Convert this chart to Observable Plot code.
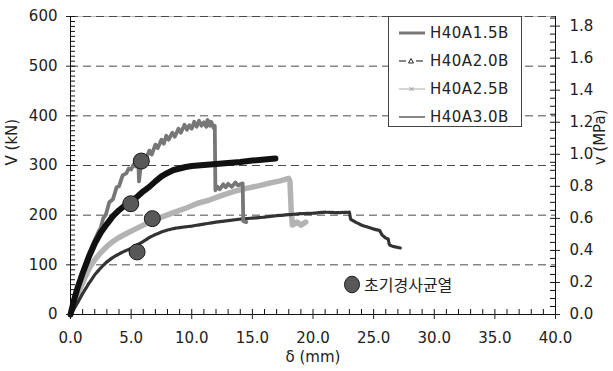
<!DOCTYPE html>
<html>
<head>
<meta charset="utf-8">
<script src="https://cdn.jsdelivr.net/npm/d3@7"></script>
<script src="https://cdn.jsdelivr.net/npm/@observablehq/plot@0.6"></script>
<style>
  html, body { margin: 0; padding: 0; background: #fff; }
  #chart { position: relative; width: 613px; height: 371px; font-family: "DejaVu Sans", "Noto Sans CJK KR", sans-serif; color: #222; }
  #chart svg { display: block; }
  .legend { position: absolute; left: 388px; top: 16px; width: 134px; height: 111px; box-sizing: border-box;
            border: 1px solid #444; background: #fff; padding-top: 2px; }
  .legend .row { display: flex; align-items: center; height: 28px; }
  .legend svg { margin-left: 10px; margin-right: 5px; }
  .legend span { font-size: 15px; letter-spacing: 0.5px; color: #222; }
  .crack { position: absolute; left: 343px; top: 272px; display: flex; align-items: center; }
  .crack span { font-family: "Noto Sans CJK KR", sans-serif; font-size: 16px; color: #222; margin-left: 3px; }
</style>
</head>
<body>
<div id="chart"></div>
<script>
// Load-displacement curves of four wall specimens: δ (mm), V (kN)
const seriesNames = ["H40A1.5B", "H40A2.0B", "H40A2.5B", "H40A3.0B"];

const h40a15 = [
  [0, 0], [0.5, 45], [1.0, 88], [1.5, 122], [2.0, 150], [2.3, 166], [2.5, 175], [2.7, 194],
  [2.9, 200], [3.2, 226], [3.5, 232], [3.8, 256], [4.0, 258], [4.3, 280], [4.6, 284],
  [4.8, 294], [5.0, 292], [5.2, 302], [5.4, 298], [5.6, 306], [5.65, 268], [5.75, 290],
  [6.0, 316], [6.2, 312], [6.5, 330], [6.7, 322], [7.0, 342], [7.2, 335], [7.5, 352],
  [7.7, 344], [7.9, 360], [8.1, 352], [8.4, 366], [8.6, 358], [8.9, 374], [9.1, 366],
  [9.4, 382], [9.6, 372], [9.8, 381], [10.0, 374], [10.2, 388], [10.4, 378], [10.6, 390],
  [10.8, 380], [11.0, 387], [11.2, 378], [11.3, 392], [11.5, 380], [11.6, 388], [11.8, 376],
  [11.9, 380], [11.95, 250], [12.1, 258], [12.3, 252], [12.6, 262], [12.8, 256], [13.0, 263],
  [13.3, 257], [13.6, 266], [13.8, 260], [14.2, 264], [14.25, 188], [14.5, 186]
];

const h40a20 = [
  [0, 0], [0.5, 20], [1.0, 42], [1.5, 62], [2.0, 80], [2.5, 94], [3.0, 106], [3.5, 115],
  [4.0, 122], [4.5, 128], [5.0, 133], [5.5, 140], [6.0, 147], [6.5, 155], [7.0, 161],
  [7.5, 166], [8.0, 170], [8.5, 173], [9.0, 175], [10.0, 178], [11.0, 182], [12.0, 186],
  [13.0, 189], [14.0, 192], [15.0, 194], [16.0, 196], [17.0, 199], [18.0, 201], [19.0, 203],
  [20.0, 204], [21.0, 206], [22.0, 205], [23.0, 206], [23.1, 192], [23.5, 186], [24.0, 180],
  [24.5, 176], [25.0, 172], [25.5, 169], [25.7, 160], [26.0, 154], [26.2, 152], [26.3, 140],
  [26.6, 137], [27.2, 134]
];

const h40a25 = [
  [0, 0], [0.4, 25], [0.8, 52], [1.2, 75], [1.6, 95], [2.0, 110], [2.5, 125], [3.0, 137],
  [3.5, 147], [4.0, 155], [4.7, 164], [5.5, 174], [6.5, 186], [7.5, 196], [8.5, 205],
  [9.5, 214], [10.5, 224], [11.5, 231], [12.5, 240], [13.5, 248], [14.5, 254], [15.5, 259],
  [16.5, 265], [17.3, 269], [18.0, 274], [18.1, 268], [18.2, 210], [18.3, 180], [18.7, 186],
  [19.0, 180], [19.4, 186]
];

const h40a30 = [
  [0, 0], [0.3, 30], [0.6, 55], [1.0, 83], [1.5, 115], [2.0, 143], [2.5, 165], [3.0, 182],
  [3.5, 198], [4.0, 210], [4.5, 220], [5.0, 228], [5.5, 237], [6.0, 248], [6.5, 257],
  [7.0, 268], [7.5, 278], [8.0, 285], [8.5, 291], [9.0, 294], [9.5, 297], [10.0, 299],
  [11.0, 301], [12.0, 303], [13.0, 305], [14.0, 307], [15.0, 310], [16.0, 312], [16.9, 314]
];

// Initial diagonal cracking points (초기경사균열)
const crackDelta = [5.84, 4.97, 6.75, 5.49];
const crackV = [309, 223, 193, 126];

// Axis ticks
const xTicks = [0, 5, 10, 15, 20, 25, 30, 35, 40];
const yTicks = [0, 100, 200, 300, 400, 500, 600];
const gridV = [100, 200, 300, 400, 500, 600];
const mpaTicks = [0, 0.2, 0.4, 0.6, 0.8, 1.0, 1.2, 1.4, 1.6, 1.8];
const mpaPerKN = 0.0031; // shear stress per unit of shear force

const styles = {
  "H40A1.5B": {stroke: "#777", strokeWidth: 3.8},
  "H40A2.0B": {stroke: "#333", strokeWidth: 3.2, strokeDasharray: "3,1.2"},
  "H40A2.5B": {stroke: "#b3b3b3", strokeWidth: 5.5},
  "H40A3.0B": {stroke: "#111", strokeWidth: 6}
};

const curve = (pts, name) => Plot.line(pts, {
  x: d => d[0], y: d => d[1], strokeLinejoin: "round", ...styles[name]
});

const W = 613, H = 371, ML = 70, MR = 58, MT = 16, MB = 57;
const frameW = W - ML - MR, frameH = H - MT - MB;
const tickLen = 5;

const minorX = d3.range(0, 41, 1);
const minorY = d3.range(0, 601, 10);
const minorMpa = d3.range(0, 38).map(i => i * 0.05 / mpaPerKN).filter(v => v <= 600);

const chart = Plot.plot({
  width: W,
  height: H,
  marginLeft: ML,
  marginRight: MR,
  marginTop: MT,
  marginBottom: MB,
  style: {fontFamily: "DejaVu Sans, sans-serif", fontSize: "15px", color: "#222", background: "transparent", overflow: "visible"},
  x: {domain: [0, 40]},
  y: {domain: [0, 600]},
  marks: [
    Plot.ruleY([600], {stroke: "#bbb"}),
    Plot.ruleY(gridV, {stroke: "#4a4a4a", strokeDasharray: "8,5"}),
    curve(h40a25, "H40A2.5B"),
    curve(h40a20, "H40A2.0B"),
    curve(h40a15, "H40A1.5B"),
    curve(h40a30, "H40A3.0B"),
    Plot.dot(crackDelta.map((d, i) => i), {
      x: i => crackDelta[i], y: i => crackV[i], r: 8, fill: "#585858", stroke: "#1a1a1a", strokeWidth: 1
    }),
    Plot.ruleX([0], {stroke: "#111"}),
    Plot.ruleX([40], {stroke: "#111"}),
    Plot.ruleY([0], {stroke: "#111"}),
    // inner minor ticks
    Plot.tickY(minorY, {y: d => d, insetRight: frameW - tickLen, stroke: "#111"}),
    Plot.tickY(minorMpa, {y: d => d, insetLeft: frameW - tickLen, stroke: "#111"}),
    Plot.tickX(minorX, {x: d => d, insetTop: frameH - tickLen, stroke: "#111"}),
    // left axis
    Plot.axisY({ticks: yTicks, tickSize: 4, tickPadding: 9, label: null, tickFormat: d => String(d)}),
    // bottom axis
    Plot.axisX({ticks: xTicks, tickSize: 5, tickPadding: 13, label: null, tickFormat: d => d.toFixed(1)}),
    // right axis in MPa
    Plot.axisY({anchor: "right", ticks: mpaTicks.map(m => m / mpaPerKN), tickSize: 4, tickPadding: 10,
      label: null, tickFormat: d => (d * mpaPerKN).toFixed(1)}),
    // axis titles
    Plot.text(["V (kN)"], {frameAnchor: "left", rotate: -90, dx: -58, fontSize: 15}),
    Plot.text(["v (MPa)"], {frameAnchor: "right", rotate: -90, dx: 45, dy: -56, fontSize: 15}),
    Plot.text(["δ (mm)"], {frameAnchor: "bottom", dy: 47, fontSize: 15})
  ]
});

const host = document.getElementById("chart");
host.appendChild(chart);

// Legend box
const legend = document.createElement("div");
legend.className = "legend";
const swatch = name => {
  const s = styles[name];
  let inner = "";
  if (name === "H40A1.5B") inner = `<line x1="0" y1="5" x2="26" y2="5" stroke="${s.stroke}" stroke-width="3"/>`;
  if (name === "H40A2.0B") inner = `<line x1="0" y1="5" x2="7" y2="5" stroke="#111"/><line x1="17" y1="5" x2="24" y2="5" stroke="#111"/>
      <path d="M12,2.5 L14.5,7 L9.5,7 Z" fill="none" stroke="#111" stroke-width="0.9"/>`;
  if (name === "H40A2.5B") inner = `<line x1="0" y1="5" x2="26" y2="5" stroke="#aaa"/>
      <path d="M10.5,3 L14.5,7 M14.5,3 L10.5,7" stroke="#999" stroke-width="1"/>`;
  if (name === "H40A3.0B") inner = `<line x1="0" y1="5" x2="26" y2="5" stroke="#111"/>`;
  return `<svg width="26" height="10">${inner}</svg>`;
};
seriesNames.forEach(name => {
  const row = document.createElement("div");
  row.className = "row";
  row.innerHTML = swatch(name) + `<span>${name}</span>`;
  legend.appendChild(row);
});
host.appendChild(legend);

// Marker key for the cracking points
const crack = document.createElement("div");
crack.className = "crack";
crack.innerHTML = `<svg width="18" height="19"><ellipse cx="9" cy="9.5" rx="7.5" ry="8.3" fill="#585858" stroke="#1a1a1a"/></svg><span>초기경사균열</span>`;
host.appendChild(crack);
</script>
</body>
</html>
